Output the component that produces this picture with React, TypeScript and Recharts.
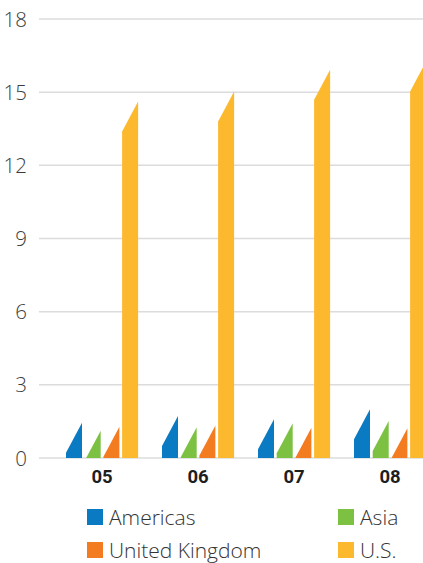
import React from 'react';
import { BarChart, Bar, XAxis, YAxis, CartesianGrid, Legend } from 'recharts';

const years = ['05', '06', '07', '08'];
const americas = [1.45, 1.72, 1.59, 2.0];
const asia = [1.12, 1.26, 1.42, 1.52];
const unitedKingdom = [1.28, 1.33, 1.24, 1.22];
const us = [14.62, 15.03, 15.92, 16.26];
const yTicks = [0, 3, 6, 9, 12, 15, 18];

const seriesList = [
  { key: 'americas', name: 'Americas', color: '#0a7bc2' },
  { key: 'asia', name: 'Asia', color: '#7cc142' },
  { key: 'uk', name: 'United Kingdom', color: '#f47c20' },
  { key: 'us', name: 'U.S.', color: '#fdb92e' },
];

const data = years.map((year, i) => ({
  year,
  americas: americas[i],
  asia: asia[i],
  uk: unitedKingdom[i],
  us: us[i],
}));

const SLANT = 30;

// Bar with a sloped top: the left edge sits SLANT px lower than the right edge.
const SlantBar = (props: any) => {
  const { x, y, width, height, fill } = props;
  if (!height || height <= 0) return null;
  const base = y + height;
  const right = x + width;
  let points: string;
  if (y + SLANT <= base) {
    points = `${right},${y} ${right},${base} ${x},${base} ${x},${y + SLANT}`;
  } else {
    const xi = right - (width * (base - y)) / SLANT;
    points = `${right},${y} ${right},${base} ${xi},${base}`;
  }
  return <polygon points={points} fill={fill} />;
};

const YTick = (props: any) => {
  const { y, payload } = props;
  return (
    <text x={27} y={y} dy={7.5} textAnchor="end" fontSize={20.5} fontWeight={300} fill="#3c3c3c">
      {payload.value}
    </text>
  );
};

const XTick = (props: any) => {
  const { x, payload } = props;
  return (
    <text x={x} y={483} textAnchor="middle" fontSize={18.5} fontWeight={700} fill="#1e1e1e" fontFamily="Roboto">
      {payload.value}
    </text>
  );
};

const legendPos = [
  { left: 87, top: 9 },
  { left: 338, top: 9 },
  { left: 87, top: 42 },
  { left: 338, top: 42 },
];

const LegendBox = () => (
  <div style={{ position: 'relative', width: 423, height: 63 }}>
    {seriesList.map((s, i) => (
      <div
        key={s.key}
        style={{
          position: 'absolute',
          left: legendPos[i].left,
          top: legendPos[i].top,
          display: 'flex',
          alignItems: 'center',
          height: 16,
          whiteSpace: 'nowrap',
        }}
      >
        <span style={{ display: 'inline-block', width: 16, height: 16, background: s.color, marginRight: 6 }} />
        <span style={{ fontSize: 21, fontWeight: 300, color: '#333', lineHeight: '16px' }}>{s.name}</span>
      </div>
    ))}
  </div>
);

export default function App() {
  return (
    <div
      style={{
        position: 'absolute',
        left: 0,
        top: 0,
        width: 423,
        height: 563,
        overflow: 'hidden',
        background: '#fff',
        fontFamily: "'Open Sans', sans-serif",
      }}
    >
      <BarChart
        width={438}
        height={563}
        data={data}
        margin={{ top: 19, right: 0, bottom: 75, left: 0 }}
        barSize={16}
        barGap={2.7}
      >
        <CartesianGrid vertical={false} stroke="#dcdcdc" strokeWidth={1.5} />
        <YAxis
          width={39}
          domain={[0, 18]}
          ticks={yTicks}
          interval={0}
          axisLine={false}
          tickLine={false}
          tick={<YTick />}
        />
        <XAxis
          dataKey="year"
          height={30}
          padding={{ left: 15, right: 0 }}
          axisLine={false}
          tickLine={false}
          tickSize={0}
          tick={<XTick />}
        />
        <Legend
          layout="horizontal"
          verticalAlign="middle"
          wrapperStyle={{ left: 0, top: 500, width: 423 }}
          content={() => <LegendBox />}
        />
        {seriesList.map((s) => (
          <Bar
            key={s.key}
            dataKey={s.key}
            name={s.name}
            fill={s.color}
            shape={<SlantBar />}
            isAnimationActive={false}
          />
        ))}
      </BarChart>
    </div>
  );
}
